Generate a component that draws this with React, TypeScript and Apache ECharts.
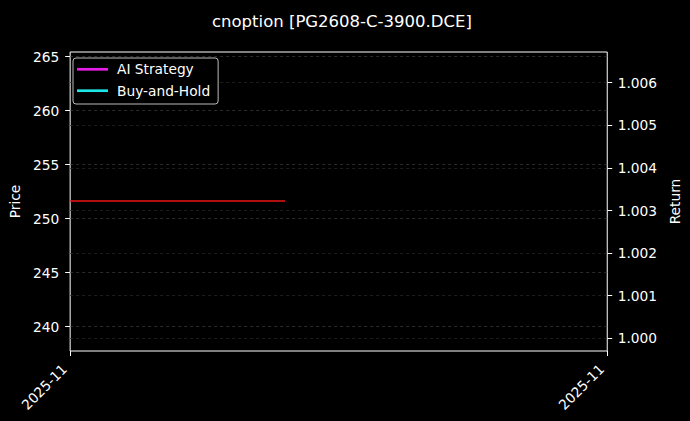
import React, { useEffect, useRef } from 'react';
import * as echarts from 'echarts';

const chartTitle = 'cnoption [PG2608-C-3900.DCE]';
const xTickPositions = [0, 10];
const xTickLabels = ['2025-11', '2025-11'];
const priceX = [0, 4];
const priceValues = [251.64, 251.64];
const aiStrategyValues: number[][] = [];
const buyHoldValues: number[][] = [];
const priceTicks = [240, 245, 250, 255, 260, 265];
const returnTicks = [1.0, 1.001, 1.002, 1.003, 1.004, 1.005, 1.006];
const priceRange = [237.75, 265.435];
const returnRange = [0.999702, 1.006721];

const FONT = 'DejaVu Sans';

export default function App() {
  const ref = useRef<HTMLDivElement>(null);
  useEffect(() => {
    if (!ref.current) return;
    const chart = echarts.init(ref.current, undefined, { renderer: 'svg' });
    const priceData = priceX.map((x, i) => [x, priceValues[i]]);
    chart.setOption({
      animation: false,
      backgroundColor: '#000000',
      textStyle: { fontFamily: FONT },
      title: {
        text: chartTitle,
        left: 207,
        top: 8,
        textStyle: { color: '#ffffff', fontSize: 16.5, fontWeight: 'normal', fontFamily: FONT },
      },
      legend: {
        left: 73,
        top: 58,
        orient: 'vertical',
        data: ['AI Strategy', 'Buy-and-Hold'],
        icon: 'rect',
        itemWidth: 31,
        itemHeight: 2.7,
        itemGap: 5.4,
        padding: [3.3, 8, 5.3, 4],
        backgroundColor: '#000000',
        borderColor: '#bbbbbb',
        borderWidth: 1,
        borderRadius: 3,
        textStyle: { color: '#ffffff', fontSize: 13.75, fontFamily: FONT, lineHeight: 16, padding: [0, 0, 0, 4] },
      },
      grid: {
        left: 67,
        right: 79,
        top: 52,
        bottom: 70,
        show: true,
        borderColor: '#ffffff',
        borderWidth: 1,
        backgroundColor: 'transparent',
      },
      xAxis: {
        type: 'value',
        min: xTickPositions[0],
        max: xTickPositions[xTickPositions.length - 1],
        axisLine: { show: false },
        axisTick: { show: true, length: 5, lineStyle: { color: '#ffffff' }, customValues: xTickPositions },
        axisLabel: {
          color: '#ffffff',
          fontSize: 13.75,
          fontFamily: FONT,
          rotate: 45,
          margin: 10,
          padding: [0, 8, 0, 0],
          customValues: xTickPositions,
          formatter: (v: number) => xTickLabels[xTickPositions.indexOf(v)] ?? '',
        },
        splitLine: { show: false },
      },
      yAxis: [
        {
          type: 'value',
          position: 'left',
          min: priceRange[0],
          max: priceRange[1],
          name: 'Price',
          nameLocation: 'middle',
          nameGap: 44,
          nameRotate: 90,
          nameTextStyle: { color: '#ffffff', fontSize: 13.75, fontFamily: FONT },
          axisLine: { show: false },
          axisTick: { show: true, length: 5, lineStyle: { color: '#ffffff' }, customValues: priceTicks },
          axisLabel: {
            color: '#ffffff',
            fontSize: 13.75,
            fontFamily: FONT,
            margin: 11,
            customValues: priceTicks,
            formatter: (v: number) => String(Math.round(v)),
          },
          splitLine: { show: true, lineStyle: { color: '#363636', type: [3, 3], width: 0.8 } },
        },
        {
          type: 'value',
          position: 'right',
          min: returnRange[0],
          max: returnRange[1],
          name: 'Return',
          nameLocation: 'middle',
          nameGap: 55,
          nameRotate: 90,
          nameTextStyle: { color: '#ffffff', fontSize: 13.75, fontFamily: FONT, verticalAlign: 'top' },
          axisLine: { show: false },
          axisTick: { show: true, length: 5, lineStyle: { color: '#ffffff' }, customValues: returnTicks },
          axisLabel: {
            color: '#ffffff',
            fontSize: 13.75,
            fontFamily: FONT,
            margin: 10.5,
            customValues: returnTicks,
            formatter: (v: number) => v.toFixed(3),
          },
          splitLine: { show: true, lineStyle: { color: '#262626', type: [3, 3], width: 0.8 } },
        },
      ],
      series: [
        {
          name: 'Price',
          type: 'line',
          yAxisIndex: 0,
          data: priceData,
          showSymbol: false,
          symbol: 'none',
          lineStyle: { color: '#ee1414', width: 1.3 },
          itemStyle: { color: '#ee1414' },
          silent: true,
        },
        {
          name: 'AI Strategy',
          type: 'line',
          yAxisIndex: 1,
          data: aiStrategyValues,
          symbol: 'none',
          lineStyle: { color: '#e61ee6', width: 2 },
          itemStyle: { color: '#e61ee6' },
        },
        {
          name: 'Buy-and-Hold',
          type: 'line',
          yAxisIndex: 1,
          data: buyHoldValues,
          symbol: 'none',
          lineStyle: { color: '#1ee6e6', width: 2 },
          itemStyle: { color: '#1ee6e6' },
        },
      ],
    });
    return () => chart.dispose();
  }, []);
  return (
    <div
      ref={ref}
      style={{ position: 'absolute', left: 0, top: 0, width: 690, height: 421, background: '#000' }}
    />
  );
}
